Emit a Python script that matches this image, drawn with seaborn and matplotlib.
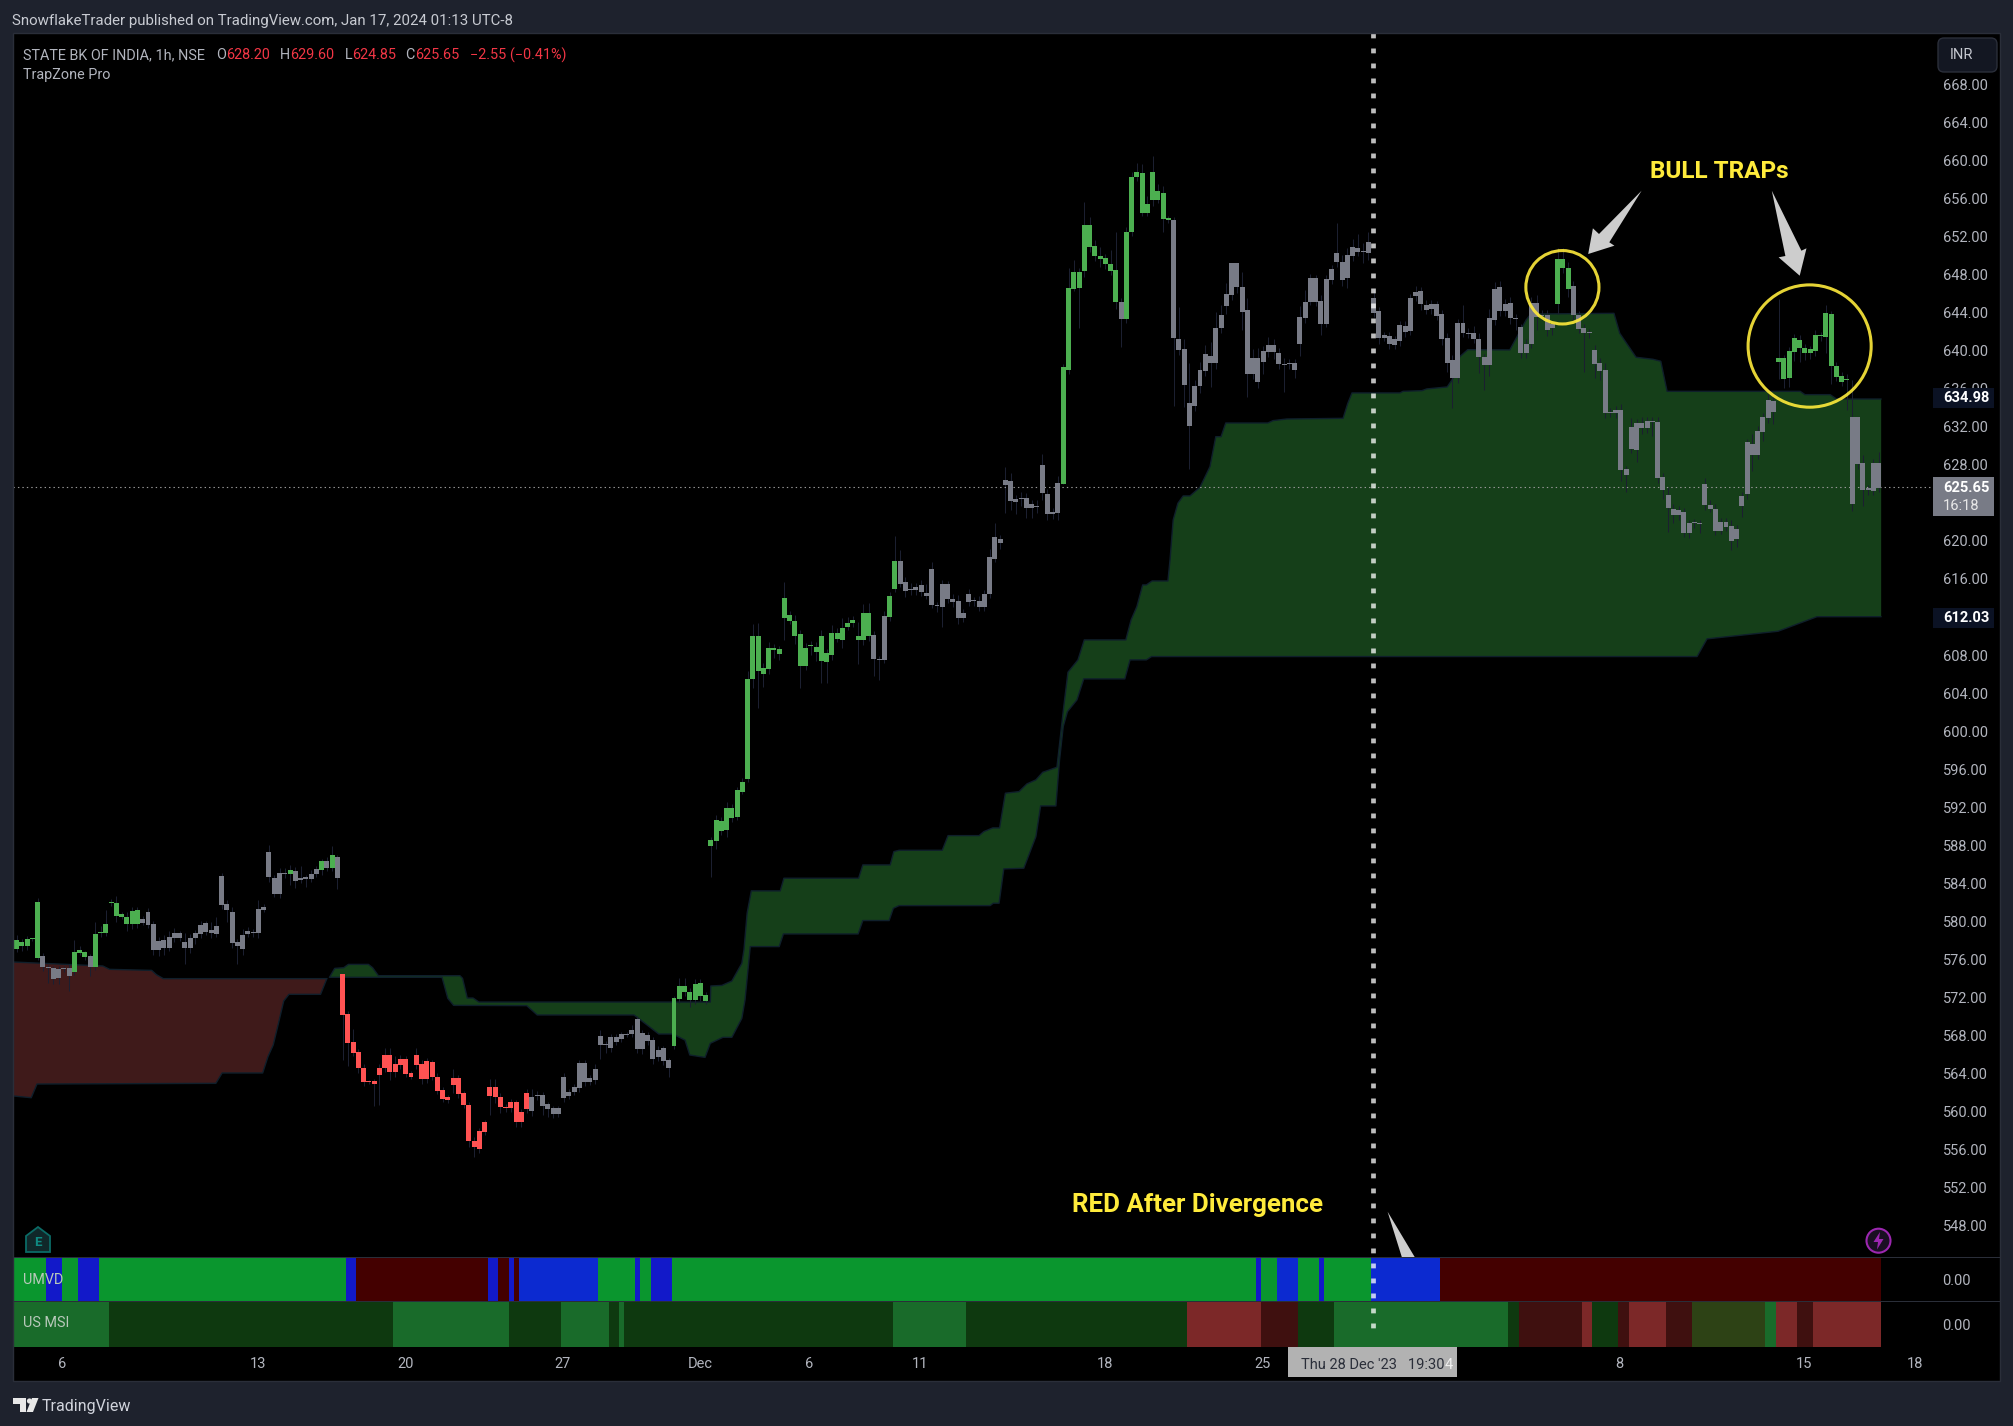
import numpy as np
import matplotlib
matplotlib.use("Agg")
import matplotlib.pyplot as plt
from matplotlib.patches import Polygon, Rectangle, Ellipse, Circle, FancyBboxPatch
from matplotlib.transforms import Affine2D
import seaborn as sns

# ---------- data ----------
body_top = [
578.03,577.86,578.14,578.17,582.03,576.35,575.19,575.05,574.98,575.09,
575.05,576.73,576.98,576.73,576.35,578.66,578.87,579.71,582.03,581.96,
580.73,580.42,581.12,581.19,580.24,580.94,579.68,577.93,578.03,578.31,
578.73,578.73,577.82,578.24,578.73,579.57,579.78,579.08,579.50,584.76,
581.82,580.98,577.82,578.56,578.94,578.87,581.29,581.47,587.29,584.52,
585.04,585.08,585.39,585.32,584.59,584.62,584.97,585.46,586.34,586.34,
586.97,586.76,574.46,570.22,567.27,566.22,564.57,563.17,563.21,564.57,
565.94,565.94,565.00,565.52,565.52,564.01,565.94,565.00,565.31,565.20,
563.63,562.26,561.49,563.52,563.52,561.91,560.65,556.90,557.95,558.90,
562.57,562.57,561.52,560.51,560.96,560.96,559.98,561.91,561.56,561.70,
561.73,560.75,560.33,560.33,563.63,562.05,562.54,565.10,565.10,563.49,
564.43,567.94,567.06,567.80,567.80,568.11,568.18,568.57,569.69,568.22,
568.04,567.52,566.47,566.64,565.41,571.90,573.19,573.19,572.56,573.40,
573.51,572.25,588.56,590.66,590.56,591.92,591.92,593.82,594.66,605.49,
610.01,610.01,606.64,608.75,608.75,608.64,614.00,612.22,611.59,610.22,
608.75,609.06,608.85,610.01,608.22,610.32,610.32,610.85,611.38,611.69,
610.01,612.43,612.43,610.11,607.59,612.11,614.21,617.89,617.88,615.68,
614.94,615.15,615.36,614.52,617.05,613.27,615.48,615.48,613.90,613.69,
612.43,614.42,613.79,613.69,614.42,618.30,620.41,620.20,626.40,626.30,
624.40,624.51,624.51,623.88,623.67,627.99,624.94,623.04,626.09,638.29,
646.60,648.28,648.28,653.22,653.22,651.01,649.96,649.75,649.12,648.49,
645.13,652.49,658.27,658.80,658.69,655.43,658.80,656.80,656.59,653.96,
653.75,641.24,640.18,634.50,636.29,637.98,639.66,639.45,642.39,643.76,
645.97,649.23,649.23,646.70,644.28,639.24,639.24,639.97,640.60,640.60,
639.76,638.61,638.71,638.71,643.55,645.13,647.65,647.65,645.23,647.54,
648.60,650.28,649.33,650.07,650.91,650.80,650.49,651.43,645.55,644.18,
641.66,641.55,641.24,642.71,642.60,645.55,646.18,646.28,644.81,644.92,
644.92,643.86,641.34,639.03,642.92,642.92,641.87,641.87,641.24,639.34,
643.44,646.49,646.70,644.91,644.98,643.41,642.46,640.71,644.98,644.98,
643.76,643.72,642.81,649.61,649.61,648.70,646.81,643.72,642.36,641.97,
640.08,638.71,637.97,633.56,633.77,633.77,627.56,631.94,632.37,632.44,
632.58,632.58,632.51,626.73,624.83,623.36,623.25,623.04,621.85,621.92,
621.88,625.99,623.78,623.36,622.03,621.99,621.57,621.25,624.72,630.40,
630.19,631.56,633.00,634.82,634.71,639.24,639.24,639.97,641.34,641.13,
640.29,640.18,641.65,641.65,643.97,643.86,638.39,637.34,637.03,633.03,
633.03,628.20,625.60,628.20,628.20]
body_bot = [
577.12,577.40,577.40,578.10,576.18,575.19,575.05,573.93,574.04,575.02,
574.25,574.67,576.63,576.28,575.19,575.19,578.77,578.77,581.92,580.56,
580.45,579.71,579.71,579.71,579.82,579.64,576.98,576.98,577.19,577.19,
578.24,578.28,577.19,577.19,578.24,578.66,578.91,578.73,578.66,581.75,
581.19,577.75,577.40,577.12,578.66,578.80,578.77,581.19,584.66,582.87,
582.87,585.01,584.97,584.24,584.31,584.48,584.45,584.97,585.39,585.64,
585.60,584.59,570.15,567.24,566.19,564.57,563.13,563.10,562.89,563.84,
564.54,564.19,564.15,564.89,563.91,563.63,564.89,563.42,563.42,563.59,
562.19,561.28,561.24,562.78,561.87,560.65,556.90,556.23,556.06,557.88,
561.63,561.49,560.44,560.40,560.40,558.93,558.93,560.30,560.05,561.59,
560.61,560.23,559.74,559.74,561.45,561.63,562.08,562.47,563.10,563.14,
563.35,567.00,566.96,566.68,567.31,567.62,568.08,568.18,566.61,566.61,
567.41,565.52,565.69,565.34,564.57,566.92,571.83,572.53,571.72,571.72,
572.14,571.62,587.93,588.45,589.50,589.61,590.87,590.98,593.61,594.97,
605.49,606.33,606.01,606.54,608.54,608.12,611.90,611.59,610.01,606.85,
606.85,608.96,608.33,607.38,607.27,608.01,609.69,609.59,610.95,611.38,
609.59,609.59,610.01,607.59,607.49,607.49,612.01,614.95,615.47,614.73,
614.83,614.83,614.62,614.20,613.27,613.16,613.06,613.90,613.58,611.90,
611.90,613.58,613.69,613.06,613.06,614.42,618.09,619.78,625.88,624.19,
624.09,624.40,623.46,623.46,623.56,625.04,622.83,622.83,622.94,625.99,
637.98,646.53,646.60,648.38,650.91,649.96,649.65,649.12,648.38,645.13,
643.34,643.34,652.49,658.27,654.48,654.48,655.85,655.85,653.85,653.75,
641.34,640.08,636.40,632.09,634.19,636.29,637.87,638.71,638.71,642.39,
644.71,645.86,646.70,644.07,637.55,637.55,636.71,638.82,639.87,639.87,
638.61,638.50,638.61,637.98,640.71,643.44,645.13,645.13,642.81,642.81,
647.44,649.33,647.44,647.65,649.96,650.38,650.38,650.28,643.97,641.34,
641.34,640.71,640.60,641.03,641.97,642.08,645.76,644.92,644.28,644.39,
643.65,641.24,638.71,637.13,637.13,641.87,641.76,641.24,639.34,638.50,
638.50,643.23,644.18,644.21,643.41,643.34,639.73,639.73,640.71,643.58,
643.69,642.18,642.39,644.91,648.70,646.49,643.72,642.32,641.90,641.90,
638.60,637.87,633.45,633.45,633.45,627.46,626.93,629.67,629.56,631.91,
631.91,632.51,626.62,625.36,623.46,622.73,622.73,620.84,620.84,621.85,
621.81,623.78,623.36,621.08,621.08,621.47,620.03,620.17,623.67,624.93,
629.03,629.03,631.46,632.93,633.56,638.82,637.03,637.13,639.87,640.29,
639.73,639.73,639.97,641.55,641.44,638.39,637.24,636.71,636.96,623.88,
628.09,625.36,625.36,625.25,625.57]
wick_up = [
.5,.3,.3,.1,.4,.3,.2,.3,.3,.2, .5,1.3,.4,.1,.2,1.3,.6,1.5,.3,.7,
.3,.6,.4,.3,.3,.5,.4,.4,.5,.7, .6,.3,1.0,.4,.4,.5,.3,.8,.9,.3,
.4,.5,.3,.6,.5,.3,1.0,.3,.7,.3, .6,.5,.5,.4,1.2,.3,.4,.4,.2,.4,
1.0,.2,.0,.3,1.4,.3,.4,.1,.2,.4, .7,.7,.8,.4,.3,.2,.7,.4,.3,.2,
.4,.3,.2,1.0,.3,.2,.3,.4,.3,.2, .9,.9,.4,.3,.4,.3,.3,.5,.8,.5,
.3,.2,.2,.3,.4,.3,.4,.3,.3,.3, .6,.6,.4,.3,.3,.3,.2,.5,.4,.3,
.3,.3,.4,.3,.2,.2,.9,.8,.4,.5, .4,.3,.3,.5,.4,.6,.4,.3,.4,.8,
1.3,1.4,.5,.6,.4,.3,1.7,.4,.6,.4, .5,.4,.5,.6,.4,.8,.5,1.0,.6,.4,
1.5,.9,1.0,.4,.3,.5,.4,2.6,1.2,.5, .6,.4,.5,.9,.7,.3,.4,.3,.5,.6,
.4,.5,.3,.5,.4,.8,1.5,.4,1.4,.8, .4,.6,.5,.4,.6,1.1,.5,.4,.7,.3,
2.1,1.3,.4,2.4,.8,.6,.9,.4,1.5,4.0, .4,.5,.5,.9,.9,.8,1.7,.7,.7,.2,
.3,3.4,1.0,4.2,.6,.8,.9,1.5,1.7,1.0, 1.2,.0,.0,1.6,1.3,.9,1.0,.5,.8,.6,
.5,.6,.4,.4,1.2,1.3,.4,.3,.6,.4, .4,3.1,.7,.7,.8,1.5,.8,1.0,.8,.4,
.3,.4,.3,.4,.5,.4,.6,.4,.5,.4, .3,.4,.5,.5,.4,1.9,.5,.7,.6,.3,
.9,.7,.6,.5,.7,.5,.4,.5,.7,.9, .5,.6,.3,1.2,1.2,.6,.5,.5,.4,.3,
.5,.5,.7,.4,.4,.6,.3,1.0,.5,.6, .5,.4,.5,.4,.8,.5,.4,.4,.4,.4,
.3,.6,.5,.5,.4,.4,.6,.4,.4,.3, 1.0,.5,.4,.6,.5,6.2,.3,.4,.4,.5,
.4,.3,.5,.3,.8,.3,.4,.4,.5,3.9, .0,.8,.3,.4,1.2]
wick_dn = [
.3,.5,.4,.2,.2,.4,1.5,.5,.6,.3, 1.6,.3,.2,.3,.9,.3,.4,.3,.3,.6,
.2,.7,.5,.4,.2,.3,.5,.6,.7,.3, .4,.3,1.7,.5,.6,.4,.3,.5,.3,.5,
1.3,.6,1.9,.7,.3,.4,.5,.2,.5,.3, .4,.5,1.2,.7,.3,.9,.3,.3,.5,.3,
.3,1.2,4.7,2.5,.4,.5,.4,.2,2.3,3.2, .4,.9,.5,.4,.3,.2,.4,.5,.4,.3,
.3,.3,.3,.8,.4,.3,.6,1.0,.4,.3, 2.0,.6,.6,.4,.4,.6,.6,.5,.5,.4,
1.0,.8,.4,.3,.4,.3,.3,.4,.4,.4, .5,1.5,.8,.4,.3,.3,.2,.3,.5,.6,
.4,.5,.4,.5,.9,.3,.4,.4,.7,.4, .5,.3,3.3,.9,.4,.7,.4,.3,.2,.3,
1.0,3.9,1.4,.5,.9,.6,2.3,.3,.9,2.3, .4,1.0,1.0,2.3,2.2,.5,.3,.8,.3,.4,
2.5,.5,.5,1.8,2.1,.3,.4,.3,.3,.6, .5,.5,.4,.3,.3,.6,2.1,.4,.5,.6,
.4,.4,.5,.4,.4,.4,.3,.6,2.9,.9, 1.3,.7,1.0,1.1,.6,.7,.6,.5,.7,.0,
.4,.3,4.2,.6,.5,.5,.9,.5,.4,.7, 3.0,.4,.4,.4,.3,.3,.6,.3,1.4,.3,
7.2,.5,2.3,4.5,.5,.7,.5,2.5,.6,.5, .9,.5,.6,1.9,2.4,.5,.6,1.3,.5,.7,
.5,2.8,.5,.9,1.3,.5,.3,.4,1.2,.3, .4,.5,.6,1.1,.5,.4,1.2,.7,.4,.6,
.3,.5,.4,.5,.5,.4,.5,.6,.4,.5, .4,.6,1.0,3.2,.5,.4,.4,.4,1.7,2.6,
1.2,.5,.5,.6,.6,1.2,.5,.5,.4,1.4, .5,.6,.7,1.0,.5,.8,.6,.5,4.1,.6,
1.5,1.0,.5,.4,.5,1.2,1.8,.4,1.3,.7, .6,1.5,.5,1.0,2.5,.8,.5,.4,.5,.5,
1.0,.5,.3,.5,.4,.4,1.0,.8,1.2,.5, 1.7,.4,1.0,.5,1.3,1.8,.9,.9,1.0,1.5,
.7,.6,.5,.5,1.7,1.9,.4,.4,3.2,.7, .5,1.7,.5,.4,.4]
kind_names = ['bull','flat','bull','flat','bull','flat','bull','flat','bull','flat','bull','flat',
              'bear','flat','bull','flat','bull','flat','bull','flat','bull','flat','bull','flat','bull','flat']
kind_runs  = [5,6,3,1,9,28,1,5,1,1,1,1,36,27,38,3,2,31,11,1,9,73,3,39,14,6]

bear_cloud_top_x = [-.6,16.4,17.7,25.7,26.6,27.9,59.0]
bear_cloud_top   = [575.72,575.3,574.95,574.84,574.39,573.97,573.97]
bear_cloud_bot_x = [-.6,2.8,3.9,37.9,39.1,46.8,47.8,48.8,49.8,50.8,51.8,57.8,59.0]
bear_cloud_bot   = [561.63,561.45,562.89,562.96,564.05,564.05,565.76,566.99,569.27,571.62,572.32,572.32,573.97]

bull_cloud_top_x = [59.5,60.5,62.2,63.1,66.9,67.7,68.8,84.3,84.8,85.7,86.8,87.9,131.9,132.0,134.1,136.0,137.9,
    138.3,138.9,139.7,145.2,145.9,160.1,160.9,166.1,166.8,167.8,176.0,177.1,183.0,183.9,185.6,186.9,188.0,190.6,
    192.1,193.8,195.1,197.8,199.1,199.9,201.8,203.0,210.9,211.9,213.0,214.1,214.8,215.9,218.9,219.3,219.9,220.8,
    221.8,223.1,225.0,226.9,228.0,229.0,229.9,237.9,238.9,241.5,252.2,253.1,253.9,263.0,263.6,267.2,268.1,272.0,
    273.1,274.4,275.9,283.9,287.0,287.9,303.7,304.8,307.9,311.1,312.6,313.8,339.1,340.0,344.8,346.0,354.5]
bull_cloud_top = [574.11,575.05,575.12,575.47,575.47,575.12,574.28,574.28,574.0,571.93,571.93,571.51,571.51,573.2,573.26,573.72,575.58,
    576.98,580.85,583.2,583.2,584.53,584.53,585.93,585.93,587.33,587.47,587.47,589.01,589.01,589.43,589.82,589.82,593.47,593.64,
    594.45,594.87,595.67,596.2,602.58,606.19,607.49,609.59,609.59,611.69,613.09,615.37,615.37,615.79,615.79,618.0,622.2,623.96,
    624.73,624.73,625.64,627.81,630.96,630.96,632.4,632.4,632.65,632.82,632.89,634.47,635.56,635.56,635.73,635.8,635.98,636.19,
    637.1,639.38,640.11,640.08,643.23,643.86,643.93,641.83,639.31,639.1,638.89,635.73,635.73,635.38,635.38,634.92,634.92]
bull_cloud_bot_x = [59.5,80.9,82.0,83.1,97.0,99.0,117.4,119.9,122.1,124.8,127.1,128.0,130.9,131.9,134.3,136.0,137.9,138.5,
    139.5,145.0,145.8,160.0,160.9,165.9,166.7,167.8,185.1,185.7,186.8,187.7,191.5,193.8,194.7,197.6,198.3,199.0,199.8,
    201.6,202.9,210.7,211.7,214.8,215.8,319.5,321.4,334.9,342.3,354.5]
bull_cloud_bot = [574.11,574.11,571.9,571.16,571.13,570.15,570.15,569.09,568.15,568.15,567.5,565.94,565.69,567.17,567.8,567.8,569.8,571.72,
    577.34,577.34,578.67,578.67,580.08,580.08,581.37,581.65,581.65,581.9,581.9,585.51,585.58,588.91,592.13,592.13,596.97,600.48,602.05,
    603.28,605.49,605.49,607.49,607.49,607.84,607.84,609.7,610.5,612.03,612.03]

umvd_edges  = [-.5,5.6,8.6,11.7,15.7,62.7,64.5,89.6,91.5,93.6,94.6,95.5,110.5,117.6,118.6,120.6,124.6,
               235.6,236.6,239.6,243.6,247.6,248.6,257.5,270.6,354.5]
umvd_states = ['g','b','g','b','g','b','r','b','r','b','r','B','g','b','g','b','g','b','g','B','g','b','g','B','r']
msi_edges   = [-.5,17.6,71.6,93.6,103.5,112.6,114.5,115.5,166.6,180.5,222.5,236.6,243.6,250.5,283.5,285.6,
               297.6,299.5,304.5,306.5,313.5,318.5,332.5,334.5,338.5,341.6,354.5]
msi_states  = ['L','D','L','D','L','D','L','D','L','D','R','K','D','L','D','K','R','D','K','R','K','O','L','R','K','R']

price_ticks = [p for p in range(548, 669, 4) if p not in (612, 624)]
time_tick_pos = [8.7,45.9,74.0,103.8,129.9,150.7,171.8,206.9,236.8,304.8,339.8,360.9]
time_tick_lab = ['6','13','20','27','Dec','6','11','18','25','8','15','18']

last_close = 625.65
cursor_bar = 257.9

# ---------- style ----------
W, H = 2013, 1426
BG = '#1e222d'
sns.set_theme(style='dark', rc={'figure.facecolor': BG, 'axes.facecolor': '#000000',
                                'lines.scale_dashes': False, 'patch.linewidth': 0})
FONT = ['Roboto', 'DejaVu Sans']
plt.rcParams['font.family'] = FONT
GREY = '#b2b5be'
fig = plt.figure(figsize=(W/100, H/100), dpi=100, facecolor=BG)
T = Affine2D().scale(1/W, -1/H).translate(0, 1) + fig.transFigure
LEFT = 13

def pane(top, bot):
    a = fig.add_axes([LEFT/W, 1-bot/H, (2000-LEFT)/W, (bot-top)/H])
    a.set_facecolor('#000000')
    for s in a.spines.values():
        s.set_visible(False)
    a.grid(False)
    return a

XLIM = ((LEFT-16.5)/5.26, (2000-16.5)/5.26)
ax = pane(33, 1257)
ax.set_zorder(3)
ax1 = pane(1257.5, 1301)
ax2 = pane(1302, 1347)
axt = pane(1347, 1381)
for a in (ax, ax1, ax2, axt):
    a.set_xlim(*XLIM)
ax.set_ylim(660-(1257-160.5)/9.51, 660+(160.5-33)/9.51)

# clouds
def cloud(xt, yt, xb, yb, fill):
    ax.fill(list(xt)+list(xb)[::-1], list(yt)+list(yb)[::-1], color=fill, lw=0, zorder=1)
    for xs, ys in ((xt, yt), (xb, yb)):
        sns.lineplot(x=xs, y=ys, ax=ax, color='#0f1f2b', lw=1, estimator=None, sort=False,
                     legend=False, zorder=1.5)
cloud(bear_cloud_top_x, bear_cloud_top, bear_cloud_bot_x, bear_cloud_bot, '#3f1a1a')
cloud(bull_cloud_top_x, bull_cloud_top, bull_cloud_bot_x, bull_cloud_bot, '#153f19')

# candles
top = np.array(body_top); bot = np.array(body_bot)
n = len(top)
idx = np.arange(n)
kinds = np.repeat(kind_names, kind_runs)
pal = {'bull': '#4caf50', 'flat': '#787b86', 'bear': '#ff5252'}
ax.vlines(idx, bot-np.array(wick_dn), top+np.array(wick_up), color='#1b1f30', lw=0.75, zorder=2)
ax.bar(idx, np.maximum(top-bot, 0.1), bottom=bot, width=0.95, color=[pal[k] for k in kinds], lw=0, zorder=3)

# last price and cursor lines
ax.plot([XLIM[0], (1932-16.5)/5.26], [last_close]*2, color='#9a9a9a', lw=0.8, ls=(0, (1, 2.2)), zorder=2.5)
cursor_low = 660-(1336-160.5)/9.51
ax.plot([cursor_bar]*2, [ax.get_ylim()[1], cursor_low], color='#ffffff', alpha=0.75, lw=3.4,
        ls=(0, (3.5, 7.3)), clip_on=False, zorder=6, dash_capstyle='butt')

# trap circles
ax.add_patch(Ellipse((293.9, 646.67), 13.9, 7.72, fill=False, ec='#ffeb3b', lw=2.2, alpha=0.9, zorder=5))
ax.add_patch(Ellipse((340.9, 640.49), 23.4, 12.86, fill=False, ec='#ffeb3b', lw=2.2, alpha=0.9, zorder=5))

# price axis
ax.set_yticks(price_ticks)
ax.set_yticklabels([f'{p:.2f}' for p in price_ticks])
ax.set_xticks([])
ax.tick_params(axis='y', left=False, right=False, labelleft=False, labelright=True, length=0, pad=-41,
               labelsize=10.5, labelcolor=GREY)
for l in ax.get_yticklabels():
    l.set_ha('left')

# indicator strips
ucol = {'g': '#0a962e', 'b': '#1219c9', 'B': '#0c2ad0', 'r': '#440000'}
mcol = {'L': '#196b2a', 'D': '#0e390f', 'R': '#7c2828', 'K': '#3f100f', 'O': '#2d4215'}
for a, edges, states, cmap in ((ax1, umvd_edges, umvd_states, ucol), (ax2, msi_edges, msi_states, mcol)):
    e = np.array(edges)
    a.bar(e[:-1], 1, width=np.diff(e), align='edge', color=[cmap[s] for s in states], lw=0)
    a.set_ylim(0, 1); a.set_xticks([]); a.set_yticks([])

# time axis
axt.set_yticks([])
axt.set_xticks(time_tick_pos)
axt.set_xticklabels(time_tick_lab)
axt.tick_params(axis='x', length=0, pad=-17, labelsize=10.5, labelcolor=GREY)
sns.despine(ax=axt, left=True, bottom=True)

# figure-level annotations, given in image pixels
def ptext(x, y, s, **kw):
    kw.setdefault('color', GREY); kw.setdefault('fontsize', 10.4); kw.setdefault('va', 'center')
    return fig.text(x, y, s, transform=T, zorder=12, **kw)
def poly(pts, **kw):
    kw.setdefault('lw', 0)
    fig.add_artist(Polygon(pts, closed=True, transform=T, zorder=kw.pop('zorder', 9), **kw))
def rect(x0, y0, x1, y1, **kw):
    kw.setdefault('lw', 0)
    fig.add_artist(Rectangle((x0, y0), x1-x0, y1-y0, transform=T, zorder=kw.pop('zorder', 10), **kw))

rect(LEFT, 33, 2000, 1381, fill=False, ec='#2a2e39', lw=1, zorder=8)
rect(LEFT, 1256.7, 2000, 1257.7, fc='#2a2e39', zorder=4)
rect(LEFT, 1300.8, 2000, 1301.8, fc='#2a2e39', zorder=4)

ptext(12.5, 21, 'SnowflakeTrader published on TradingView.com, Jan 17, 2024 01:13 UTC-8', color='#c8cbd2', fontsize=10.85)
RED = '#f23645'
ptext(23, 55, 'STATE BK OF INDIA, 1h, NSE')
for x, s, c in ((216.5, 'O', GREY), (226, '628.20', RED), (280, 'H', GREY), (290, '629.60', RED),
                (344.6, 'L', GREY), (352, '624.85', RED), (405, 'C', GREY), (415, '625.65', RED),
                (470, '\u22122.55 (\u22120.41%)', RED)):
    ptext(x, 55, s, color=c)
ptext(23, 75, 'TrapZone Pro')

YEL = '#ffeb3b'
ptext(1650, 171, 'BULL TRAPs', color=YEL, fontsize=17.5, fontweight='bold')
ptext(1072, 1205, 'RED After Divergence', color=YEL, fontsize=18.6, fontweight='bold')

AR = '#cdcdcd'
poly([(1641.6,190.7),(1609.3,242.3),(1614.4,245.7),(1588.2,254),(1592.9,228.3),(1599,234)], fc=AR)
poly([(1771.8,190.7),(1785.4,256),(1778.6,257.3),(1799.7,275.7),(1806.5,248.3),(1801.4,250.7)], fc=AR)
poly([(1387.6,1211.7),(1401.8,1257),(1414.7,1257)], fc=AR)

# price badges
def badge(y0, y1, fc):
    rect(1933, y0, 1994, y1, fc=fc)
badge(388, 408, '#0b1224'); ptext(1943, 398.5, '634.98', color='#ffffff', fontsize=10.5, fontweight='bold')
badge(607.5, 627.5, '#0b1224'); ptext(1943, 618, '612.03', color='#ffffff', fontsize=10.5, fontweight='bold')
badge(477, 515.7, '#787b86')
ptext(1943, 488, '625.65', color='#ffffff', fontsize=10.5, fontweight='bold')
ptext(1943, 506, '16:18', color='#e8e8e8', fontsize=10.5)

# currency button
fig.add_artist(FancyBboxPatch((1942, 42), 51, 26, boxstyle='round,pad=4,rounding_size=6', transform=T,
                              fc='#131722', ec='#2a2e39', lw=1, zorder=10))
ptext(1950, 55, 'INR', fontsize=10.5, color='#c5c8d0')

# strip labels
ptext(23, 1280, 'UMVD', color='#b9c9bb')
ptext(23, 1323, 'US MSI', color='#b9c9bb')
ptext(1942, 1281, '0.00', fontsize=10.5)
ptext(1942, 1326, '0.00', fontsize=10.5)

# cursor time label
rect(1287.5, 1347, 1456.7, 1376.7, fc='#b2b2b2')
ptext(1373, 1365, "Thu 28 Dec '23   19:30", color='#2a2e39', fontsize=10.5, ha='center')
ptext(1449, 1365, '4', color='#f0f0f0', fontsize=10.5, ha='center')

# E tag and lightning badge
poly([(26,1236),(38,1227),(50,1236),(50,1252),(26,1252)], fc='#10282a', ec='#0b6b66', lw=1.3)
ptext(38, 1242, 'E', color='#0f8a82', fontsize=9.5, ha='center', fontweight='bold')
fig.add_artist(Circle((1878.5, 1240.7), 12, transform=T, fc='#1a0f22', ec='#9c27b0', lw=1.5, zorder=9))
poly([(1880,1232),(1873.5,1242),(1878,1242),(1877,1249.5),(1883.5,1239),(1879,1239)], fc='#9c27b0', zorder=10)

# footer logo
poly([(13,1398),(26,1398),(26,1412),(20,1412),(20,1404),(13,1404)], fc='#e8e8e8')
fig.add_artist(Circle((29.5, 1401), 2.6, transform=T, fc='#e8e8e8', lw=0, zorder=9))
poly([(32,1398),(38.5,1398),(33,1412),(26.5,1412)], fc='#e8e8e8')
ptext(42, 1406, 'TradingView', color='#d1d4dc', fontsize=11.5)

fig.savefig('out.png', dpi=100, facecolor=BG)
